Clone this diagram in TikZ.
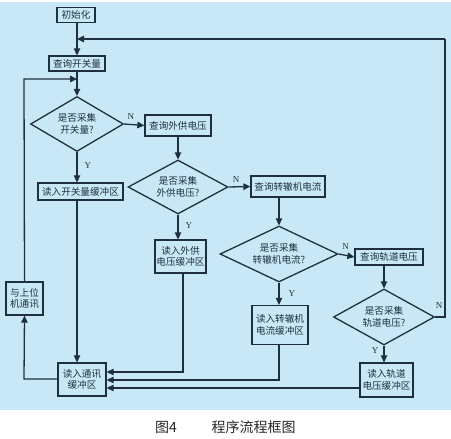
\documentclass[tikz,border=0pt]{standalone}
\usepackage{fontspec}
\setmainfont{Liberation Serif}
\newfontfamily\cjk{Noto Sans CJK SC}
\usetikzlibrary{shapes.geometric,arrows.meta}
\definecolor{bg}{HTML}{C8E8F8}
\definecolor{ink}{HTML}{1E3040}
\begin{document}
\begin{tikzpicture}[x=1pt,y=-1pt,
  every node/.style={font=\cjk\fontsize{9.6}{11.5}\selectfont,text=ink,align=center},
  procbox/.style={draw=ink,line width=1.3pt,fill=bg,inner sep=0pt},
  decide/.style={draw=ink,line width=1.3pt,fill=bg,shape=diamond,aspect=1.8,inner sep=0pt},
  flow/.style={draw=ink,line width=1.3pt,-{Triangle[length=7pt,width=6.5pt]}},
  plain/.style={draw=ink,line width=1.3pt},
  yn/.style={font=\fontsize{9}{10}\selectfont,text=ink,inner sep=0pt}]
\useasboundingbox (0,0) rectangle (451,439);
\fill[bg] (0,0) rectangle (451,410);
\fill[white] (0,0) rectangle (451,1.5);

\node[procbox,minimum width=38pt,minimum height=15pt] (init) at (76,15) {初始化};
\node[procbox,minimum width=56pt,minimum height=15pt] (q1) at (77,63.5) {查询开关量};
\node[decide,minimum width=93pt,minimum height=55pt] (d1) at (77,124) {是否采集\\开关量?};
\node[procbox,minimum width=66pt,minimum height=21pt] (s1) at (178,125.5) {查询外供电压};
\node[procbox,minimum width=85pt,minimum height=17pt] (b1) at (80.5,191.5) {读入开关量缓冲区};
\node[decide,minimum width=100pt,minimum height=54pt] (d2) at (178,187) {是否采集\\外供电压?};
\node[procbox,minimum width=74pt,minimum height=21pt] (s2) at (288,186.5) {查询转辙机电流};
\node[procbox,minimum width=51pt,minimum height=33pt] (b2) at (180.5,256.5) {读入外供\\电压缓冲区};
\node[decide,minimum width=118pt,minimum height=56pt] (d3) at (279,254) {是否采集\\转辙机电流?};
\node[procbox,minimum width=68pt,minimum height=16pt] (s3) at (389,257) {查询轨道电压};
\node[procbox,minimum width=56pt,minimum height=39pt] (b3) at (280,325) {读入转辙机\\电流缓冲区};
\node[decide,minimum width=101pt,minimum height=56pt] (d4) at (384,317) {是否采集\\轨道电压?};
\node[procbox,minimum width=53pt,minimum height=34pt] (b4) at (386.5,380) {读入轨道\\电压缓冲区};
\node[procbox,minimum width=48pt,minimum height=33pt] (comm) at (82,379.5) {读入通讯\\缓冲区};
\node[procbox,minimum width=37pt,minimum height=33pt] (host) at (24.5,298.5) {与上位\\机通讯};

\coordinate (top) at (77,39);
\coordinate (right) at (445,39);
\coordinate (rightlow) at (445,317);
\coordinate (left) at (24,79);

% main spine
\draw[flow] (init.south -| 77,0) -- (q1.north -| 77,0);
\draw[flow] (right) -- (top);
\draw[plain] (d4.east) -- (rightlow) -- (right);
\draw[flow] (q1.south -| 77,0) -- (d1.north);
\draw[flow] (host.north) -- (left) -- (77,79);

% decision 1
\draw[flow] (d1.east) -- (s1.west) node[yn,pos=0.33,above=4pt] {N};
\draw[flow] (d1.south) -- (b1.north -| 77,0) node[yn,pos=0.45,right=7pt] {Y};
% decision 2
\draw[flow] (s1.south -| 178,0) -- (d2.north);
\draw[flow] (d2.east) -- (s2.west) node[yn,pos=0.35,above=4pt] {N};
\draw[flow] (d2.south) -- (b2.north -| 178,0) node[yn,pos=0.45,right=7pt] {Y};
% decision 3
\draw[flow] (s2.south -| 279,0) -- (d3.north);
\draw[flow] (d3.east) -- (s3.west) node[yn,pos=0.45,above=5pt] {N};
\draw[flow] (d3.south) -- (b3.north -| 279,0) node[yn,pos=0.5,right=9pt] {Y};
% decision 4
\draw[flow] (s3.south -| 384,0) -- (d4.north);
\node[yn] at (439,306) {N};
\draw[flow] (d4.south) -- (b4.north -| 384,0) node[yn,pos=0.3,left=5pt] {Y};

% into comm buffer
\draw[flow] (b1.south -| 77,0) -- (comm.north -| 77,0);
\draw[flow] (b2.south -| 183,0) -- (183,372) -- (comm.east |- 0,372);
\draw[flow] (b3.south -| 279,0) -- (279,380) -- (comm.east |- 0,380);
\draw[flow] (b4.west |- 0,388) -- (comm.east |- 0,388);
\draw[flow] (comm.west |- 0,379) -- (24,379) -- (host.south);

% caption
\node[font=\cjk\fontsize{14}{16}\selectfont,text=black!85] (cap1) at (166,427) {图4};
\node[font=\cjk\fontsize{14}{16}\selectfont,text=black!85] (cap2) at (253.5,427) {程序流程框图};
\end{tikzpicture}
\end{document}
